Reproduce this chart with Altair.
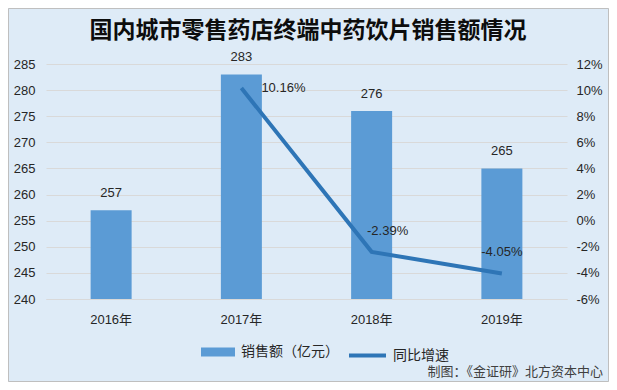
import altair as alt
import pandas as pd

years = ["2016年", "2017年", "2018年", "2019年"]
sales = [257, 283, 276, 265]
growth = [None, 0.1016, -0.0239, -0.0405]
growth_labels = ["", "10.16%", "-2.39%", "-4.05%"]
left_ticks = [240, 245, 250, 255, 260, 265, 270, 275, 280, 285]
right_ticks = [-0.06, -0.04, -0.02, 0.0, 0.02, 0.04, 0.06, 0.08, 0.10, 0.12]
title_text = "国内城市零售药店终端中药饮片销售额情况"
footer_text = "制图：《金证研》北方资本中心"
bar_name = "销售额（亿元）"
line_name = "同比增速"

df = pd.DataFrame({"year": years, "sales": sales, "growth": growth, "glabel": growth_labels})

NUM = "Liberation Sans, Noto Sans CJK SC"
CJK = "Noto Sans CJK SC"
TXT = "#262626"

x_enc = alt.X(
    "year:N", sort=years,
    scale=alt.Scale(paddingInner=0.686, paddingOuter=0.343),
    axis=alt.Axis(title=None, labelAngle=0, ticks=False, domain=True, domainColor="#D9D9D9",
                  labelFont=NUM, labelFontSize=13, labelColor=TXT, labelPadding=14),
)

y_left = alt.Y(
    "sales:Q", stack=None,
    scale=alt.Scale(domain=[240, 285], nice=False, zero=False),
    axis=alt.Axis(values=left_ticks, title=None, ticks=False, domain=False, labelPadding=11,
                  labelOverlap=False, grid=True, gridColor="#D9D9D9",
                  labelFont=NUM, labelFontSize=13, labelColor=TXT),
)

y_right = alt.Y(
    "growth:Q",
    scale=alt.Scale(domain=[-0.06, 0.12], nice=False, zero=False),
    axis=alt.Axis(orient="right", values=right_ticks, title=None, ticks=False, domain=False,
                  grid=False, labelPadding=9, labelOverlap=False,
                  labelExpr="round(datum.value*100) + '%'",
                  labelFont=NUM, labelFontSize=13, labelColor=TXT),
)

base = alt.Chart(df)

border = alt.Chart(pd.DataFrame({"a": [0]})).mark_rect(
    fillOpacity=0, stroke="#BFBFBF", strokeWidth=1
).encode(x=alt.value(-37.5), x2=alt.value(562.5), y=alt.value(-55.5), y2=alt.value(317.5))

title = alt.Chart(pd.DataFrame({"t": [title_text]})).mark_text(
    font=CJK, fontSize=23, fontWeight="bold", color="#0D0D0D", align="center", baseline="middle"
).encode(x=alt.value(262), y=alt.value(-33), text="t:N")

bars = base.transform_calculate(series=f"'{bar_name}'").mark_bar(size=41).encode(
    x=x_enc,
    y=y_left,
    color=alt.Color("series:N", scale=alt.Scale(range=["#5B9BD5"]),
                    legend=alt.Legend(orient="none", legendX=155, legendY=271, title=None,
                                      symbolType="M-1,-0.26H1V0.26H-1Z", symbolSize=1156,
                                      symbolStrokeWidth=0, labelFont=CJK, labelFontSize=14,
                                      labelColor=TXT, labelOffset=6)),
)

bar_labels = base.mark_text(font=NUM, fontSize=13, color=TXT, baseline="middle", dy=-17).encode(
    x=x_enc, y=y_left, text=alt.Text("sales:Q")
)

left_layer = alt.layer(bars, bar_labels)

line = base.transform_filter("isValid(datum.growth)").transform_calculate(
    series2=f"'{line_name}'"
).mark_line(strokeWidth=4).encode(
    x=x_enc,
    y=y_right,
    stroke=alt.Stroke("series2:N", scale=alt.Scale(range=["#2E75B6"]),
                      legend=alt.Legend(orient="none", legendX=301, legendY=271, title=None,
                                        symbolType="stroke", symbolSize=1369, symbolStrokeWidth=4,
                                        labelFont=CJK, labelFontSize=14, labelColor=TXT,
                                        labelOffset=5)),
)

def glabel(name, align, dx, dy):
    return base.transform_filter(f"datum.glabel == '{name}'").mark_text(
        font=NUM, fontSize=13, color=TXT, align=align, baseline="middle", dx=dx, dy=dy
    ).encode(x=x_enc, y=y_right, text="glabel:N")

right_layer = alt.layer(
    line,
    glabel("10.16%", "left", 20, 0),
    glabel("-2.39%", "center", 16, -21),
    glabel("-4.05%", "center", 0, -22),
)

footer = alt.Chart(pd.DataFrame({"t": [footer_text]})).mark_text(
    font=CJK, fontSize=13, color="#404040", align="right", baseline="middle"
).encode(x=alt.value(557), y=alt.value(308), text="t:N")

chart = alt.layer(border, title, left_layer, right_layer, footer).resolve_scale(
    y="independent", color="independent", stroke="independent"
).properties(
    width=521, height=235,
    padding={"left": 38, "top": 56, "right": 42, "bottom": 83},
    autosize=alt.AutoSizeParams(type="none"),
    background="#DEEBF7",
).configure_view(stroke=None)

chart.save("out.html", embed_options={"renderer": "svg", "actions": False})
